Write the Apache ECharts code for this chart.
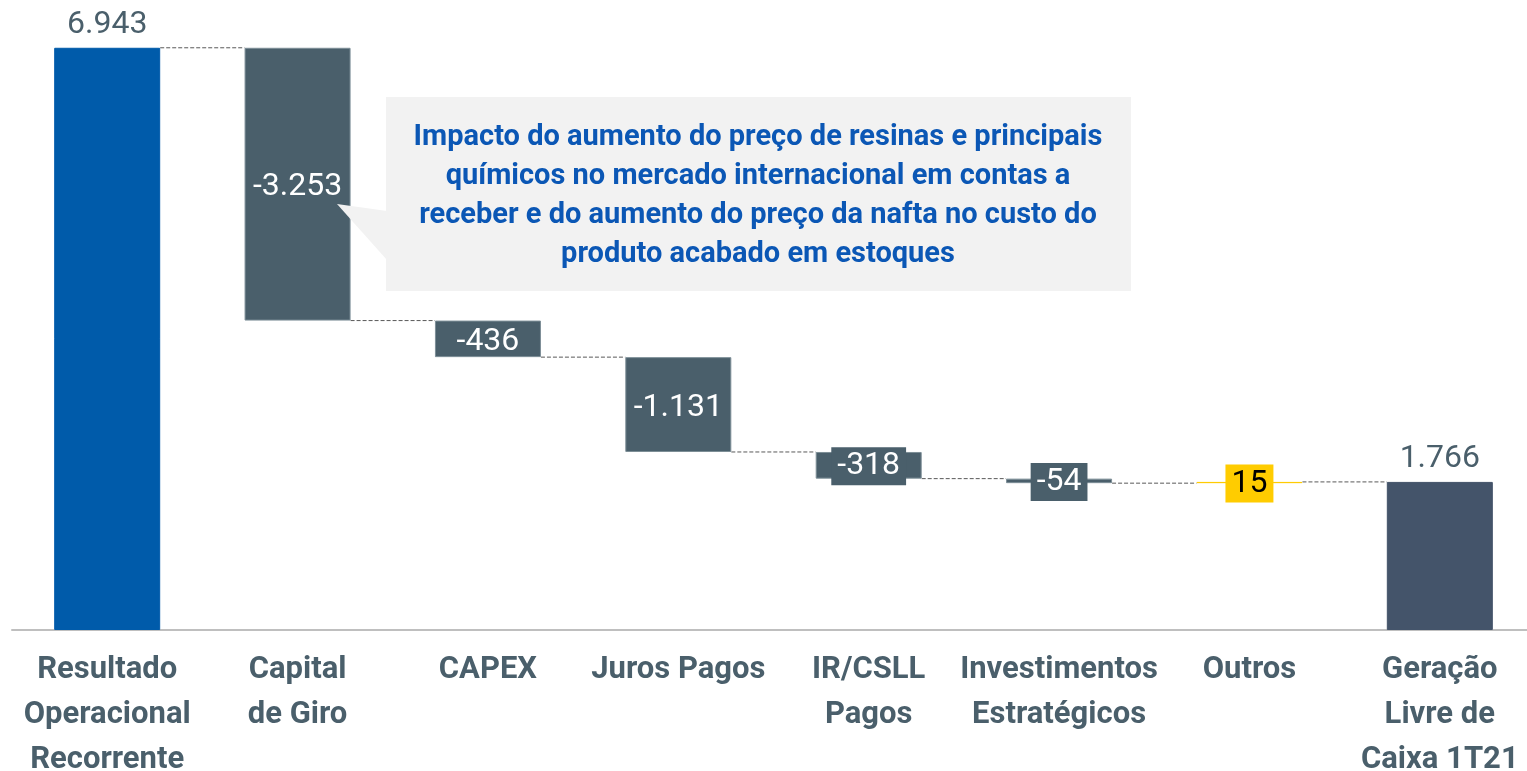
<!DOCTYPE html>
<html>
<head>
<meta charset="utf-8">
<script src="https://cdn.jsdelivr.net/npm/echarts@6/dist/echarts.min.js"></script>
<style>html,body{margin:0;padding:0;background:#fff}#c{width:1527px;height:771px}</style>
</head>
<body>
<div id="c"></div>
<script>
const categories = ['Resultado\nOperacional\nRecorrente', 'Capital\nde Giro', 'CAPEX', 'Juros Pagos', 'IR/CSLL\nPagos', 'Investimentos\nEstratégicos', 'Outros', 'Geração\nLivre de\nCaixa 1T21'];
const values = [6943, -3253, -436, -1131, -318, -54, 15, 1766];
const valueLabels = ['6.943', '-3.253', '-436', '-1.131', '-318', '-54', '15', '1.766'];
const kinds = ['total', 'delta', 'delta', 'delta', 'delta', 'delta', 'delta', 'total'];
const annotationText = 'Impacto do aumento do preço de resinas e principais\nquímicos no mercado internacional em contas a\nreceber e do aumento do preço da nafta no custo do\nproduto acabado em estoques';

const FONT = 'Roboto, "Noto Sans", sans-serif';
const SLATE = '#4a5f6b';
const colors = ['#005BAA', SLATE, SLATE, SLATE, SLATE, SLATE, '#FFCC00', '#44546A'];

// waterfall computation
const base = [], height = [], levels = [];
let running = 0;
values.forEach((v, i) => {
  if (kinds[i] === 'total') {
    base.push(0); height.push(v); running = v;
  } else {
    const next = running + v;
    base.push(Math.min(running, next)); height.push(Math.abs(v)); running = next;
  }
  levels.push(running);
});

const BAR_W = 106;
const deltaData = height.map((h, i) => {
  const item = { value: h, itemStyle: { color: colors[i], borderColor: kinds[i] === 'total' ? colors[i] : (i === 6 ? '#FFCC00' : '#7d8e97'), borderWidth: 1 } };
  if (kinds[i] === 'total') {
    item.label = { position: 'top', distance: 7, color: '#4a5f6b', fontSize: 32 };
  } else {
    item.label = { position: 'inside', color: '#fff', fontSize: 32, offset: [0, 3] };
    if (h < 400) {
      item.label.backgroundColor = colors[i];
      item.label.padding = [4, 6, 2, 6];
      item.label.offset = [0, 1];
      if (i === 6) item.label.color = '#000';
    }
  }
  return item;
});

const connectorData = levels.slice(0, -1).map((lv, i) => [i, lv]);

const chart = echarts.init(document.getElementById('c'), null, { renderer: 'canvas' });
chart.setOption({
  animation: false,
  grid: { left: 12, width: 1523, top: 43, bottom: 141, containLabel: false, outerBoundsMode: 'none' },
  xAxis: {
    type: 'category', data: categories,
    axisLine: { lineStyle: { color: '#bfbfbf', width: 2 } },
    axisTick: { show: false },
    axisLabel: { interval: 0, margin: 18, color: '#4a5f6b', fontSize: 31, fontWeight: 'bold', fontFamily: FONT, lineHeight: 45 }
  },
  yAxis: { type: 'value', min: 0, max: 7000, show: false, splitLine: { show: false } },
  series: [
    {
      type: 'bar', stack: 'w', data: base, barWidth: BAR_W,
      itemStyle: { color: 'transparent' }, label: { show: false }, silent: true
    },
    {
      type: 'bar', stack: 'w', data: deltaData, barWidth: BAR_W,
      label: { show: true, fontFamily: FONT, formatter: p => valueLabels[p.dataIndex] }
    },
    {
      type: 'custom', data: connectorData, z: 1, silent: true,
      renderItem: (params, api) => {
        const i = api.value(0), lv = api.value(1);
        const a = api.coord([i, lv]);
        const b = api.coord([i + 1, lv]);
        return {
          type: 'line',
          shape: { x1: a[0] + BAR_W / 2, y1: a[1], x2: b[0] - BAR_W / 2, y2: b[1] },
          style: { stroke: '#595959', lineWidth: 1, lineDash: [4, 2] }
        };
      }
    }
  ],
  graphic: [
    { type: 'rect', shape: { x: 386, y: 97, width: 745, height: 194 }, style: { fill: '#f2f2f2' }, z: 10 },
    { type: 'polygon', shape: { points: [[387, 211], [337, 204], [387, 260]] }, style: { fill: '#f2f2f2' }, z: 10 },
    { type: 'text', x: 758, y: 196, z: 11,
      style: { text: annotationText, fill: '#0B57B5', font: 'bold 29px ' + FONT, align: 'center', verticalAlign: 'middle', lineHeight: 39 } }
  ]
});
</script>
</body>
</html>
